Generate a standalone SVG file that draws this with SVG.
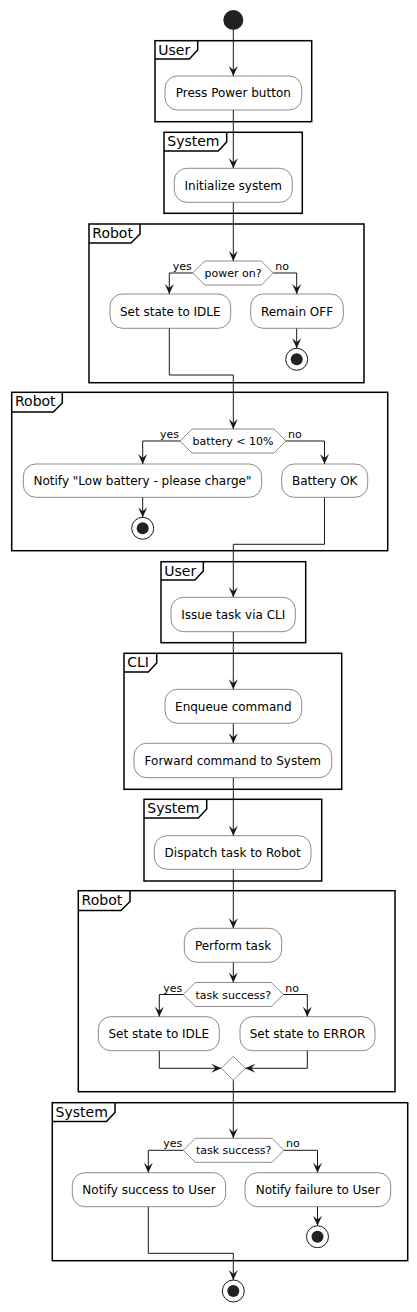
<svg xmlns="http://www.w3.org/2000/svg" width="417" height="1312" viewBox="0 0 417 1312">
<defs>
<marker id="arr" markerUnits="userSpaceOnUse" markerWidth="10" markerHeight="9" refX="10" refY="4.5" orient="auto" overflow="visible">
<path d="M0,0 L10,4.5 L0,9 L4,4.5 Z" fill="#181818"/>
</marker>
<style>
text{font-family:"DejaVu Sans","Liberation Sans",sans-serif;fill:#000}
.act{fill:#fff;stroke:#181818;stroke-width:0.5}
.t{font-size:12px;text-anchor:middle}
.dec{fill:#fff;stroke:#181818;stroke-width:0.5}
.dt{font-size:11px;text-anchor:middle}
.lab{font-size:11px}
.frame{fill:none;stroke:#000;stroke-width:1.5}
.ft{font-size:14px}
.c{fill:none;stroke:#181818;stroke-width:1}
.ca{fill:none;stroke:#181818;stroke-width:1;marker-end:url(#arr)}
.endo{fill:none;stroke:#181818;stroke-width:1}
.endi{fill:#222}
</style>
</defs>

<g id="frames">
<g id="f-user1"><rect class="frame" x="155" y="40.7" width="156.7" height="81"/><path class="frame" d="M155,59 H189.3 L197.7,50 V40.7"/><text class="ft" x="158.3" y="54.7">User</text></g>
<g id="f-system1"><rect class="frame" x="164" y="132.3" width="138.3" height="81"/><path class="frame" d="M164,151 H218.3 L226.7,142 V132.3"/><text class="ft" x="167.3" y="146.3">System</text></g>
<g id="f-robot1"><rect class="frame" x="89" y="224" width="275" height="158.7"/><path class="frame" d="M89,243 H131 L140,234 V224"/><text class="ft" x="92.3" y="238">Robot</text></g>
<g id="f-robot2"><rect class="frame" x="11.7" y="392.3" width="376" height="158.4"/><path class="frame" d="M11.7,412 H53.3 L62.3,403 V392.3"/><text class="ft" x="15" y="406.3">Robot</text></g>
<g id="f-user2"><rect class="frame" x="161" y="561.7" width="144.7" height="81"/><path class="frame" d="M161,580 H195 L203.3,571 V561.7"/><text class="ft" x="164.3" y="575.7">User</text></g>
<g id="f-cli"><rect class="frame" x="124" y="653.3" width="217.7" height="136"/><path class="frame" d="M124,672 H148.3 L156.7,663 V653.3"/><text class="ft" x="127.3" y="667.3">CLI</text></g>
<g id="f-system2"><rect class="frame" x="144" y="799.3" width="177.7" height="81.7"/><path class="frame" d="M144,818 H198.3 L206.7,809 V799.3"/><text class="ft" x="147.3" y="813.3">System</text></g>
<g id="f-robot3"><rect class="frame" x="78.3" y="890.7" width="316.7" height="201"/><path class="frame" d="M78.3,910.5 H121 L130,901.5 V890.7"/><text class="ft" x="81.6" y="904.7">Robot</text></g>
<g id="f-system3"><rect class="frame" x="52.3" y="1102.7" width="355.4" height="158"/><path class="frame" d="M52.3,1121.5 H106.5 L115,1112.5 V1102.7"/><text class="ft" x="55.6" y="1116.7">System</text></g>
</g>

<g id="connectors">
<path class="ca" d="M233.3,30 V76"/>
<path class="ca" d="M233.3,110 V168.3"/>
<path class="ca" d="M233.3,202.3 V261"/>
<path class="ca" d="M192.7,273 H169.3 V294"/>
<path class="ca" d="M273.3,273 H296.7 V294"/>
<path class="ca" d="M296.7,328.3 V348.3"/>
<path class="ca" d="M169.3,328.3 V375 H233.3 V429"/>
<path class="ca" d="M180,441 H142.7 V464"/>
<path class="ca" d="M286,441 H324.5 V464"/>
<path class="ca" d="M142.7,497.3 V517.3"/>
<path class="ca" d="M324.5,497.3 V544.3 H233.3 V597.3"/>
<path class="ca" d="M233.3,631.7 V689.3"/>
<path class="ca" d="M233.3,723.3 V743.3"/>
<path class="ca" d="M233.3,777.7 V835.7"/>
<path class="ca" d="M233.3,869.3 V928.3"/>
<path class="ca" d="M233.3,962.3 V982.5"/>
<path class="ca" d="M183.3,994.5 H159.3 V1016.7"/>
<path class="ca" d="M283.3,994.5 H307.3 V1016.7"/>
<path class="ca" d="M159.3,1050.7 V1068.3 H221.3"/>
<path class="ca" d="M307.3,1050.7 V1068.3 H245.3"/>
<path class="ca" d="M233.3,1080.3 V1138.3"/>
<path class="ca" d="M183.3,1150.3 H148.3 V1172.7"/>
<path class="ca" d="M284,1150.3 H317.5 V1172.7"/>
<path class="ca" d="M317.5,1206.7 V1225.7"/>
<path class="ca" d="M148.3,1206.7 V1253.3 H233.3 V1280"/>
</g>

<g id="start"><circle cx="233.3" cy="20" r="10" fill="#222"/></g>

<g id="n-press"><rect class="act" x="165" y="76" width="136.7" height="34" rx="12.5"/><text class="t" x="233.3" y="97.3">Press Power button</text></g>
<g id="n-init"><rect class="act" x="174.3" y="168.3" width="118" height="34" rx="12.5"/><text class="t" x="233.3" y="189.6">Initialize system</text></g>

<g id="d-power"><polygon class="dec" points="192.7,273 204.7,261 261.3,261 273.3,273 261.3,285 204.7,285"/><text class="dt" x="233" y="277">power on?</text><text class="lab" x="191.7" y="270" text-anchor="end">yes</text><text class="lab" x="275.3" y="270">no</text></g>
<g id="n-idle1"><rect class="act" x="110" y="294" width="120.7" height="34.3" rx="12.5"/><text class="t" x="170.3" y="315.5">Set state to IDLE</text></g>
<g id="n-off"><rect class="act" x="250.7" y="294" width="92.6" height="34.3" rx="12.5"/><text class="t" x="297" y="315.5">Remain OFF</text></g>
<g id="e-off"><circle class="endo" cx="296.7" cy="359.3" r="11"/><circle class="endi" cx="296.7" cy="359.3" r="6"/></g>

<g id="d-battery"><polygon class="dec" points="180,441 192,429 274,429 286,441 274,453 192,453"/><text class="dt" x="233" y="445">battery &lt; 10%</text><text class="lab" x="179" y="438" text-anchor="end">yes</text><text class="lab" x="288" y="438">no</text></g>
<g id="n-low"><rect class="act" x="23.3" y="464" width="238.4" height="33.3" rx="12.5"/><text class="t" x="142.5" y="485">Notify "Low battery - please charge"</text></g>
<g id="n-batok"><rect class="act" x="281.7" y="464" width="86" height="33.3" rx="12.5"/><text class="t" x="324.7" y="485">Battery OK</text></g>
<g id="e-low"><circle class="endo" cx="142.7" cy="528.3" r="11"/><circle class="endi" cx="142.7" cy="528.3" r="6"/></g>

<g id="n-issue"><rect class="act" x="171" y="597.3" width="124.3" height="34.4" rx="12.5"/><text class="t" x="233.2" y="618.7">Issue task via CLI</text></g>
<g id="n-enqueue"><rect class="act" x="165" y="689.3" width="136.7" height="34" rx="12.5"/><text class="t" x="233.3" y="710.6">Enqueue command</text></g>
<g id="n-forward"><rect class="act" x="134" y="743.3" width="197.7" height="34.4" rx="12.5"/><text class="t" x="232.8" y="764.7">Forward command to System</text></g>
<g id="n-dispatch"><rect class="act" x="154.3" y="835.7" width="156.7" height="33.6" rx="12.5"/><text class="t" x="232.7" y="856.7">Dispatch task to Robot</text></g>
<g id="n-perform"><rect class="act" x="184.3" y="928.3" width="97.4" height="34" rx="12.5"/><text class="t" x="233" y="949.6">Perform task</text></g>

<g id="d-task1"><polygon class="dec" points="183.3,994.5 195.3,982.5 271.3,982.5 283.3,994.5 271.3,1006.5 195.3,1006.5"/><text class="dt" x="233.3" y="998.5">task success?</text><text class="lab" x="182.3" y="991.5" text-anchor="end">yes</text><text class="lab" x="285.3" y="991.5">no</text></g>
<g id="n-idle2"><rect class="act" x="98.3" y="1016.7" width="121" height="34" rx="12.5"/><text class="t" x="158.8" y="1038">Set state to IDLE</text></g>
<g id="n-error"><rect class="act" x="240" y="1016.7" width="135" height="34" rx="12.5"/><text class="t" x="307.5" y="1038">Set state to ERROR</text></g>
<g id="m-merge"><polygon class="dec" points="233.3,1056.3 245.3,1068.3 233.3,1080.3 221.3,1068.3"/></g>

<g id="d-task2"><polygon class="dec" points="183.3,1150.3 195.3,1138.3 272,1138.3 284,1150.3 272,1162.3 195.3,1162.3"/><text class="dt" x="233.7" y="1154.3">task success?</text><text class="lab" x="182.3" y="1147.3" text-anchor="end">yes</text><text class="lab" x="286" y="1147.3">no</text></g>
<g id="n-success"><rect class="act" x="72.3" y="1172.7" width="153.4" height="34" rx="12.5"/><text class="t" x="149" y="1194">Notify success to User</text></g>
<g id="n-failure"><rect class="act" x="245" y="1172.7" width="145.7" height="34" rx="12.5"/><text class="t" x="317.8" y="1194">Notify failure to User</text></g>
<g id="e-failure"><circle class="endo" cx="317.5" cy="1236.7" r="11"/><circle class="endi" cx="317.5" cy="1236.7" r="6"/></g>
<g id="e-final"><circle class="endo" cx="233.3" cy="1291" r="11"/><circle class="endi" cx="233.3" cy="1291" r="6"/></g>
</svg>
